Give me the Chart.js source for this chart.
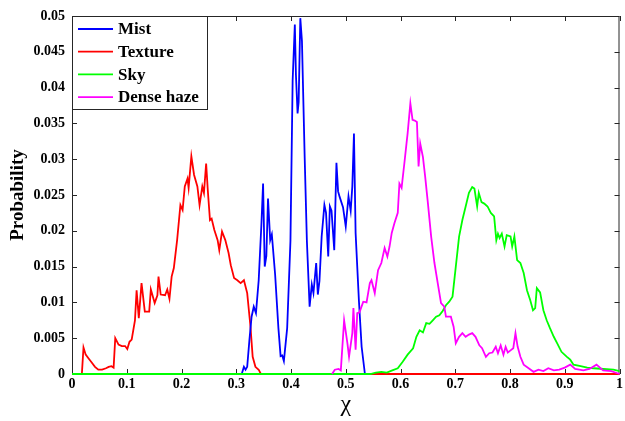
<!DOCTYPE html>
<html>
<head>
<meta charset="utf-8">
<script src="https://cdn.jsdelivr.net/npm/chart.js@4.4.1/dist/chart.umd.min.js"></script>
<style>
  html, body { margin: 0; padding: 0; background: #fff; }
  #wrap { width: 625px; height: 421px; }
</style>
</head>
<body>
<div id="wrap"><canvas id="grafico" width="625" height="421"></canvas></div>
<script>
// valores (x = chi, y = probabilidade)
const seriesNames = ['Mist', 'Texture', 'Sky', 'Dense haze'];
const seriesColors = ['#0000ff', '#ff0000', '#00ff00', '#ff00ff'];

const xTicks = [0, 0.1, 0.2, 0.3, 0.4, 0.5, 0.6, 0.7, 0.8, 0.9, 1];
const yTicks = [0, 0.005, 0.01, 0.015, 0.02, 0.025, 0.03, 0.035, 0.04, 0.045, 0.05];

const mistX = [0.305, 0.310, 0.314, 0.317, 0.320, 0.324, 0.328, 0.332, 0.336, 0.341, 0.346, 0.349, 0.352, 0.355, 0.358, 0.362, 0.365, 0.371, 0.377, 0.381, 0.384, 0.387, 0.393, 0.399, 0.403, 0.407, 0.409, 0.412, 0.414, 0.417, 0.420, 0.425, 0.429, 0.434, 0.438, 0.441, 0.446, 0.449, 0.452, 0.456, 0.461, 0.464, 0.468, 0.471, 0.474, 0.479, 0.483, 0.486, 0.489, 0.495, 0.500, 0.505, 0.509, 0.512, 0.515, 0.518, 0.524, 0.529, 0.535];
const mistY = [0, 0, 0.001, 0.0006, 0.001, 0.0047, 0.008, 0.0094, 0.0085, 0.0131, 0.021, 0.0266, 0.015, 0.0165, 0.0245, 0.0187, 0.0195, 0.0139, 0.0064, 0.0025, 0.0026, 0.0018, 0.0064, 0.0186, 0.041, 0.0488, 0.0418, 0.0364, 0.038, 0.0497, 0.0465, 0.0302, 0.0186, 0.0094, 0.0125, 0.0113, 0.0155, 0.0111, 0.013, 0.0192, 0.0236, 0.0225, 0.0164, 0.0234, 0.0228, 0.0173, 0.0295, 0.0255, 0.0247, 0.0233, 0.0206, 0.0248, 0.0228, 0.0262, 0.0336, 0.0197, 0.0103, 0.0038, 0];

const textureX = [0, 0.018, 0.021, 0.025, 0.030, 0.036, 0.042, 0.048, 0.055, 0.062, 0.067, 0.072, 0.076, 0.079, 0.085, 0.091, 0.097, 0.101, 0.105, 0.109, 0.115, 0.118, 0.122, 0.127, 0.133, 0.141, 0.144, 0.151, 0.156, 0.158, 0.162, 0.170, 0.174, 0.178, 0.182, 0.186, 0.192, 0.198, 0.202, 0.206, 0.211, 0.213, 0.218, 0.223, 0.229, 0.233, 0.238, 0.241, 0.245, 0.248, 0.252, 0.255, 0.260, 0.266, 0.269, 0.274, 0.280, 0.286, 0.290, 0.296, 0.302, 0.308, 0.314, 0.320, 0.326, 0.330, 0.335, 0.341, 0.345, 1];
const textureY = [0, 0, 0.0037, 0.0027, 0.0022, 0.0016, 0.001, 0.0006, 0.0006, 0.0008, 0.001, 0.0011, 0.0009, 0.005, 0.0041, 0.0039, 0.0039, 0.0035, 0.0045, 0.0048, 0.0075, 0.0117, 0.0078, 0.0127, 0.0087, 0.0087, 0.0118, 0.0099, 0.011, 0.0136, 0.0111, 0.011, 0.0118, 0.0105, 0.0136, 0.0148, 0.0187, 0.0236, 0.0229, 0.0262, 0.0273, 0.026, 0.0304, 0.0278, 0.0262, 0.0236, 0.0262, 0.0253, 0.0294, 0.0257, 0.0215, 0.0217, 0.0201, 0.0187, 0.0173, 0.0199, 0.0187, 0.0169, 0.0152, 0.0134, 0.0131, 0.0127, 0.0131, 0.0113, 0.0066, 0.0024, 0.001, 0.0006, 0, 0];

const skyX = [0, 0.545, 0.555, 0.565, 0.575, 0.585, 0.595, 0.604, 0.613, 0.623, 0.629, 0.635, 0.641, 0.647, 0.653, 0.659, 0.665, 0.671, 0.677, 0.683, 0.689, 0.695, 0.701, 0.707, 0.713, 0.719, 0.725, 0.731, 0.735, 0.740, 0.743, 0.748, 0.753, 0.759, 0.765, 0.771, 0.775, 0.778, 0.781, 0.785, 0.790, 0.794, 0.801, 0.804, 0.808, 0.813, 0.819, 0.825, 0.831, 0.837, 0.842, 0.846, 0.849, 0.855, 0.861, 0.867, 0.873, 0.880, 0.886, 0.894, 0.904, 0.910, 0.916, 0.929, 0.941, 0.953, 0.971, 0.989, 1];
const skyY = [0, 0, 0.0002, 0.0003, 0.0002, 0.0005, 0.0008, 0.0017, 0.0027, 0.0036, 0.0052, 0.0061, 0.0058, 0.0071, 0.007, 0.0075, 0.008, 0.0082, 0.0088, 0.0096, 0.0101, 0.0108, 0.015, 0.0192, 0.0215, 0.0234, 0.0253, 0.0261, 0.0259, 0.0234, 0.0253, 0.024, 0.0238, 0.0234, 0.0225, 0.022, 0.0187, 0.0196, 0.019, 0.0196, 0.0178, 0.0194, 0.0192, 0.0178, 0.0192, 0.0159, 0.0155, 0.0141, 0.0117, 0.0103, 0.0089, 0.0092, 0.012, 0.0114, 0.0089, 0.0075, 0.0064, 0.0052, 0.0043, 0.0031, 0.0024, 0.002, 0.0013, 0.0011, 0.0009, 0.0008, 0.0007, 0.0006, 0.0004];

const hazeX = [0.475, 0.480, 0.487, 0.491, 0.497, 0.503, 0.506, 0.512, 0.514, 0.518, 0.521, 0.525, 0.532, 0.538, 0.544, 0.547, 0.553, 0.559, 0.565, 0.571, 0.576, 0.580, 0.584, 0.589, 0.595, 0.598, 0.602, 0.607, 0.611, 0.613, 0.618, 0.622, 0.626, 0.630, 0.633, 0.636, 0.641, 0.645, 0.650, 0.656, 0.662, 0.668, 0.674, 0.680, 0.683, 0.692, 0.697, 0.701, 0.707, 0.713, 0.719, 0.725, 0.731, 0.737, 0.744, 0.749, 0.756, 0.762, 0.768, 0.774, 0.778, 0.783, 0.788, 0.792, 0.796, 0.801, 0.806, 0.810, 0.814, 0.819, 0.825, 0.834, 0.843, 0.852, 0.861, 0.870, 0.880, 0.890, 0.900, 0.910, 0.919, 0.934, 0.945, 0.958, 0.970, 0.985, 1];
const hazeY = [0, 0.0006, 0.0007, 0.0005, 0.0075, 0.0043, 0.0024, 0.0057, 0.0092, 0.0034, 0.0085, 0.0086, 0.0101, 0.01, 0.0127, 0.0131, 0.0113, 0.0145, 0.0155, 0.0176, 0.0164, 0.0178, 0.0197, 0.0211, 0.0225, 0.0266, 0.026, 0.0294, 0.0322, 0.0336, 0.0378, 0.0355, 0.0354, 0.0352, 0.029, 0.0322, 0.0303, 0.0276, 0.0239, 0.0192, 0.0155, 0.0127, 0.0099, 0.0094, 0.008, 0.008, 0.0066, 0.0043, 0.0052, 0.0057, 0.0052, 0.0055, 0.0057, 0.0052, 0.004, 0.0036, 0.0024, 0.0029, 0.003, 0.0038, 0.0029, 0.004, 0.0027, 0.0038, 0.003, 0.0033, 0.0036, 0.0057, 0.0038, 0.0024, 0.0013, 0.0008, 0.0003, 0.0006, 0.0004, 0.0008, 0.0005, 0.0006, 0.0009, 0.0013, 0.0007, 0.0005, 0.0007, 0.0013, 0.0005, 0.0004, 0];

const serifFont = "'Liberation Serif', 'Times New Roman', serif";

function pontos(xs, ys) {
    return xs.map((x, i) => ({ x: x, y: ys[i] }));
}

// moldura estilo MATLAB com marcas para dentro + legenda dentro da área
const molduraPlugin = {
    id: 'moldura',
    beforeDatasetsDraw(chart) {
        const { ctx, chartArea: a, scales } = chart;
        ctx.save();
        ctx.strokeStyle = '#262626';
        ctx.lineWidth = 1;
        ctx.strokeRect(a.left + 0.5, a.top + 0.5, a.right - a.left - 1, a.bottom - a.top - 1);
        ctx.beginPath();
        const tl = 5;
        xTicks.forEach(v => {
            const px = Math.round(scales.x.getPixelForValue(v)) + 0.5;
            ctx.moveTo(px, a.bottom); ctx.lineTo(px, a.bottom - tl);
            ctx.moveTo(px, a.top); ctx.lineTo(px, a.top + tl);
        });
        yTicks.forEach(v => {
            const py = Math.round(scales.y.getPixelForValue(v)) + 0.5;
            ctx.moveTo(a.left, py); ctx.lineTo(a.left + tl, py);
            ctx.moveTo(a.right, py); ctx.lineTo(a.right - tl, py);
        });
        ctx.stroke();
        ctx.restore();
    },
    afterDatasetsDraw(chart) {
        const { ctx, chartArea: a } = chart;
        ctx.save();
        const bx = a.left + 0.5, by = a.top + 0.5, bw = 135, bh = 93;
        ctx.fillStyle = '#fff';
        ctx.fillRect(bx, by, bw, bh);
        ctx.strokeStyle = '#262626';
        ctx.lineWidth = 1;
        ctx.strokeRect(bx, by, bw, bh);
        ctx.font = 'bold 17px ' + serifFont;
        ctx.textBaseline = 'middle';
        ctx.fillStyle = '#000';
        seriesNames.forEach((nome, i) => {
            const y = a.top + 13 + i * 22.7;
            ctx.strokeStyle = seriesColors[i];
            ctx.lineWidth = 1.8;
            ctx.beginPath();
            ctx.moveTo(a.left + 6, y); ctx.lineTo(a.left + 41, y);
            ctx.stroke();
            ctx.fillText(nome, a.left + 46, y + 1);
        });
        ctx.restore();
    }
};

const ctx = document.getElementById('grafico').getContext('2d');
const datasets = [
    { label: seriesNames[0], data: pontos(mistX, mistY), order: 2 },
    { label: seriesNames[1], data: pontos(textureX, textureY), order: 3 },
    { label: seriesNames[2], data: pontos(skyX, skyY), order: 1 },
    { label: seriesNames[3], data: pontos(hazeX, hazeY), order: 0 }
].map((d, i) => Object.assign(d, {
    borderColor: seriesColors[i],
    backgroundColor: seriesColors[i],
    borderWidth: 1.8,
    pointRadius: 0,
    tension: 0,
    fill: false,
    clip: 4
}));

const grafico = new Chart(ctx, {
    type: 'line',
    data: { datasets: datasets },
    options: {
        responsive: false,
        animation: false,
        layout: { padding: { top: 16, right: 2, left: 0, bottom: 0 } },
        plugins: { legend: { display: false }, tooltip: { enabled: false } },
        scales: {
            x: {
                type: 'linear',
                min: 0, max: 1,
                afterFit: s => { s.height = 47; },
                afterBuildTicks: s => { s.ticks = xTicks.map(v => ({ value: v })); },
                grid: { display: false, drawTicks: false },
                border: { display: false },
                ticks: {
                    padding: 2,
                    color: '#000',
                    font: { family: serifFont, size: 14, weight: 'bold' },
                    maxRotation: 0,
                    callback: v => String(+v.toFixed(1))
                },
                title: {
                    display: true,
                    text: 'χ',
                    color: '#000',
                    font: { family: serifFont, size: 24 },
                    padding: { top: 0, bottom: 2 }
                }
            },
            y: {
                type: 'linear',
                min: 0, max: 0.05,
                afterFit: s => { s.width = 72; },
                afterBuildTicks: s => { s.ticks = yTicks.map(v => ({ value: v })); },
                grid: { display: false, drawTicks: false },
                border: { display: false },
                ticks: {
                    padding: 7,
                    color: '#000',
                    font: { family: serifFont, size: 14, weight: 'bold' },
                    callback: v => String(+v.toFixed(3))
                },
                title: {
                    display: true,
                    text: 'Probability',
                    color: '#000',
                    font: { family: serifFont, size: 19, weight: 'bold' },
                    padding: { top: 7, bottom: 0 }
                }
            }
        }
    },
    plugins: [molduraPlugin]
});
</script>
</body>
</html>
